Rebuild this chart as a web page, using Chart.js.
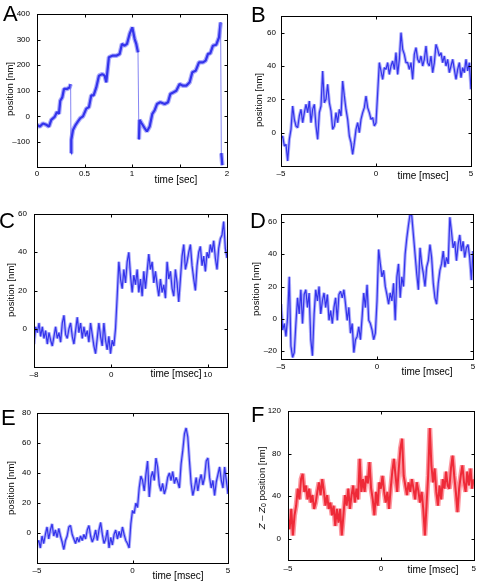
<!DOCTYPE html>
<html>
<head>
<meta charset="utf-8">
<script src="https://cdn.jsdelivr.net/npm/chart.js@4"></script>
<style>
  body { margin: 0; width: 480px; height: 582px; background: #fff; position: relative; overflow: hidden;
         font-family: 'Liberation Sans', Arial, Helvetica, sans-serif; }
  .p { position: absolute; width: 240px; height: 194px; }
  .lt { position: absolute; font-size: 22px; line-height: 22px; color: #000; }
</style>
</head>
<body>
<div class="p" style="left:0;top:0"><canvas id="cA"></canvas></div>
<div class="p" style="left:240px;top:0"><canvas id="cB"></canvas></div>
<div class="p" style="left:0;top:194px"><canvas id="cC"></canvas></div>
<div class="p" style="left:240px;top:194px"><canvas id="cD"></canvas></div>
<div class="p" style="left:0;top:388px"><canvas id="cE"></canvas></div>
<div class="p" style="left:240px;top:388px"><canvas id="cF"></canvas></div>

<div class="lt" style="left:3px;top:3px">A</div>
<div class="lt" style="left:251px;top:4px">B</div>
<div class="lt" style="left:-1px;top:210px">C</div>
<div class="lt" style="left:250px;top:210px">D</div>
<div class="lt" style="left:1px;top:407px">E</div>
<div class="lt" style="left:251px;top:404px">F</div>

<script>
// ---- data ----
// A: time [sec] / position [nm]
const tA = [0, 0.028, 0.063, 0.098, 0.126, 0.150, 0.186, 0.210, 0.231, 0.245, 0.266, 0.284, 0.315, 0.343, 0.354,
  0.358, 0.361, 0.379, 0.407, 0.431, 0.456, 0.484, 0.519, 0.547, 0.571, 0.596, 0.624, 0.652, 0.687, 0.712, 0.729,
  0.757, 0.793, 0.835, 0.870, 0.894, 0.922, 0.947, 0.975, 1.003, 1.028, 1.045, 1.063,
  1.073, 1.080, 1.101, 1.133, 1.157, 1.186, 1.214, 1.238, 1.263, 1.298, 1.344, 1.379, 1.403, 1.438, 1.466, 1.501,
  1.536, 1.572, 1.607, 1.635, 1.670, 1.705, 1.747, 1.775, 1.800, 1.824, 1.852, 1.887, 1.916, 1.933, 1.940, 1.951];
const posA = [-33, -40, -28, -33, -40, -14, -2, 17, 10, 61, 74, 107, 107, 113, 126,
  -144, -92, -53, -33, -20, -7, 0, 30, 36, 82, 82, 113, 159, 165, 159, 133,
  231, 237, 237, 244, 283, 276, 283, 322, 348, 302, 283, 250,
  -90, -14, -27, -46, -59, -40, 10, 23, 48, 55, 48, 55, 87, 94, 100, 126,
  120, 120, 133, 172, 178, 211, 211, 218, 244, 246, 276, 280, 309, 367, -144, -191];

// B: -5..5 msec
const posB = [-4, -2, -8, -7, -17, -4, 2, 16, 8, 4,
  3, 10, 14, 6, 12, 17, 12, 19, 6, 14,
  17, 4, -4, 12, 16, 37, 18, 20, 29, 18,
  13, 2, 4, 12, 6, 14, 10, 31, 22, 14,
  8, -2, -6, -13, -6, 2, 6, 0, 8, 12,
  15, 22, 15, 12, 8, 9, 4, 6, 24, 42,
  37, 32, 39, 38, 42, 35, 40, 43, 38, 48,
  35, 44, 60, 50, 47, 42, 42, 38, 42, 32,
  47, 51, 44, 42, 46, 40, 44, 52, 42, 40,
  46, 36, 42, 53, 50, 46, 48, 42, 46, 40,
  44, 36, 40, 44, 38, 32, 38, 42, 33, 39,
  36, 44, 37, 42, 26];

// C: -8..12 msec
const posC = [-8, 1, -2, 3, -4, 1, -5, -1, -8, -2,
  -6, -9, -4, 1, -5, -2, -7, 3, 7, -3,
  -5, 0, 3, -4, -8, -1, 6, -2, 3, -5,
  1, -4, -1, -7, 3, -3, -9, -13, -5, 3,
  -4, -9, 3, -6, -11, -4, -13, -6, -9, 0,
  17, 35, 26, 21, 31, 24, 35, 40, 28, 19,
  28, 23, 31, 19, 26, 17, 30, 21, 30, 39,
  31, 35, 24, 30, 23, 17, 26, 19, 23, 16,
  35, 26, 30, 21, 17, 31, 24, 14, 26, 38,
  44, 31, 35, 40, 44, 33, 26, 20, 33, 40,
  43, 33, 38, 30, 40, 37, 44, 40, 46, 37,
  31, 42, 47, 49, 56, 42, 37];

// D: -5..5 msec
const posD = [9, -7, -3, -11, 1, 26, -17, -24, -21, -3,
  13, 3, 18, -3, 15, 18, 7, 16, -13, -23,
  3, 18, 11, 20, 3, 11, 16, 7, 15, -1,
  5, -3, 7, 13, -1, 15, 17, 13, 18, 9,
  -1, 7, -9, -3, -21, -13, -11, -5, -13, 1,
  16, 7, 21, -1, -3, -7, -13, -9, 11, 43,
  34, 26, 30, 20, 15, 9, 16, 11, 22, -1,
  26, 34, 13, 26, 20, 40, 50, 58, 65, 64,
  52, 40, 28, 18, 44, 34, 28, 20, 32, 36,
  46, 38, 22, 13, 9, 22, 30, 34, 42, 32,
  38, 34, 63, 54, 44, 48, 36, 46, 52, 42,
  48, 38, 44, 46, 38, 24, 42];

// E: -5..5 msec
const posE = [-7, -5, -10, -2, -7, -1, 4, -4, 2, 6,
  -2, 2, -3, 3, -2, -6, -11, -5, -2, 4,
  5, -1, -4, -7, -3, -6, -2, -5, -1, -4,
  2, 5, -2, -6, -3, 2, -5, 2, 7, -1,
  -7, -4, 2, -10, -3, -8, -1, 2, -4, 1,
  -3, 4, -1, -5, -7, -10, 6, 15, 13, 20,
  17, 30, 38, 35, 28, 39, 48, 24, 37, 41,
  35, 50, 44, 32, 28, 33, 26, 30, 37, 40,
  35, 41, 33, 37, 34, 30, 46, 55, 66, 70,
  64, 48, 33, 25, 30, 37, 28, 35, 39, 32,
  37, 48, 50, 37, 30, 35, 25, 34, 39, 44,
  35, 30, 44, 35, 26];

// F: -5..5 msec, Z - Z0
const posF = [19, 9, 28, 3, 22, 31, 47, 37, 56, 61,
  44, 50, 37, 47, 34, 41, 28, 34, 44, 53,
  41, 56, 45, 31, 41, 28, 34, 22, 31, 12,
  28, 15, 28, 3, 22, 41, 31, 47, 28, 41,
  50, 34, 47, 37, 75, 44, 56, 44, 59, 52,
  72, 47, 37, 22, 44, 31, 53, 47, 59, 44,
  34, 44, 28, 47, 63, 75, 59, 44, 66, 85,
  94, 59, 50, 41, 53, 44, 56, 47, 37, 53,
  45, 34, 44, 28, 3, 31, 59, 104, 69, 53,
  66, 44, 31, 50, 37, 56, 47, 63, 50, 47,
  66, 78, 59, 44, 25, 47, 59, 69, 53, 44,
  63, 50, 66, 47, 56];

// tick values
const xTicksA = [0, 0.5, 1, 1.5, 2], yTicksA = [-100, 0, 100, 200, 300, 400];
const xTicks5 = [-5, 0, 5];
const xTicksC = [-8, 0, 10];
const yTicksB = [0, 20, 40, 60], yTicksC = [0, 20, 40, 60], yTicksD = [-20, 0, 20, 40, 60];
const yTicksE = [0, 20, 40, 60, 80], yTicksF = [0, 40, 80, 120];

// evenly sampled time base
function span(a, b, n) { const out = []; for (let i = 0; i < n; i++) out.push(a + (b - a) * i / (n - 1)); return out; }

const FONT = "'Liberation Sans', Arial, Helvetica, sans-serif";
const dash = v => v < 0 ? '\u2013' + (-v) : String(v);

// box, inward ticks on all four sides, axis titles
const framePlugin = {
  id: 'frame',
  afterDraw(chart, args, o) {
    const { ctx, chartArea: a } = chart;
    const x = chart.scales.x, y = chart.scales.y;
    const L = Math.round(a.left) + 0.5, R = Math.round(a.right) + 0.5;
    const T = Math.round(a.top) + 0.5, B = Math.round(a.bottom) + 0.5;
    ctx.save();
    ctx.strokeStyle = '#000';
    ctx.lineWidth = 1;
    ctx.strokeRect(L, T, R - L, B - T);
    ctx.beginPath();
    x.ticks.forEach(t => {
      const px = Math.round(x.getPixelForValue(t.value)) + 0.5;
      ctx.moveTo(px, B); ctx.lineTo(px, B - 3);
      ctx.moveTo(px, T); ctx.lineTo(px, T + 3);
    });
    y.ticks.forEach(t => {
      const py = Math.round(y.getPixelForValue(t.value)) + 0.5;
      ctx.moveTo(L, py); ctx.lineTo(L + 3, py);
      ctx.moveTo(R, py); ctx.lineTo(R - 3, py);
    });
    ctx.stroke();

    ctx.fillStyle = '#000';
    ctx.textBaseline = 'middle';
    ctx.textAlign = 'center';
    ctx.font = '10px ' + FONT;
    ctx.fillText(o.xTitle, o.xX, o.xY);

    ctx.translate(o.yX, o.yY);
    ctx.rotate(-Math.PI / 2);
    const parts = o.yParts || [{ t: o.yTitle }];
    const fontOf = p => (p.italic ? 'italic ' : '') + (p.size || 9.5) + 'px ' + FONT;
    let w = 0;
    parts.forEach(p => { ctx.font = fontOf(p); w += ctx.measureText(p.t).width; });
    let cx = -w / 2;
    ctx.textAlign = 'left';
    parts.forEach(p => {
      ctx.font = fontOf(p);
      ctx.fillText(p.t, cx, p.dy || 0);
      cx += ctx.measureText(p.t).width;
    });
    ctx.restore();
  }
};

// pad: [top, right, y-axis width, x-axis height]
function panel(id, p) {
  const pts = p.t.map((t, i) => ({ x: t, y: p.v[i] }));
  // big jumps (bead released / snapped back) are drawn as thin pale lines
  const jump = c => p.jump && Math.abs(c.p1.parsed.y - c.p0.parsed.y) > p.jump;
  new Chart(document.getElementById(id), {
    type: 'line',
    data: {
      datasets: [
        { data: pts, borderColor: p.halo, borderWidth: p.hw || 3.2, pointRadius: 0, borderJoinStyle: 'bevel',
          segment: { borderColor: c => jump(c) ? 'rgba(0,0,0,0)' : undefined } },
        { data: pts, borderColor: p.color, borderWidth: p.cw || 1.2, pointRadius: 0, borderJoinStyle: 'bevel',
          segment: { borderWidth: c => jump(c) ? 0.9 : undefined,
                     borderColor: c => jump(c) ? 'rgb(120,120,240)' : undefined } }
      ]
    },
    options: {
      responsive: true,
      maintainAspectRatio: false,
      animation: false,
      events: [],
      layout: { padding: { left: 0, top: p.pad[0], right: p.pad[1], bottom: 0 } },
      plugins: { legend: { display: false }, tooltip: { enabled: false }, frame: p.frame },
      scales: {
        x: {
          type: 'linear', min: p.xr[0], max: p.xr[1],
          grid: { display: false, drawTicks: false, tickLength: 0 }, border: { display: false },
          afterBuildTicks: s => { s.ticks = p.xt.map(v => ({ value: v })); },
          afterFit: s => { s.height = p.pad[3]; },
          ticks: {
            autoSkip: false, maxRotation: 0, padding: p.xpad, color: '#000',
            font: { family: FONT, size: 8 },
            callback: v => (p.xHide || []).includes(v) ? '' : dash(v)
          }
        },
        y: {
          type: 'linear', min: p.yr[0], max: p.yr[1],
          grid: { display: false, drawTicks: false, tickLength: 0 }, border: { display: false },
          afterBuildTicks: s => { s.ticks = p.yt.map(v => ({ value: v })); },
          afterFit: s => { s.width = p.pad[2]; },
          ticks: {
            autoSkip: false, padding: p.ypad, color: '#000',
            font: { family: FONT, size: 8 },
            callback: v => dash(v)
          }
        }
      }
    },
    plugins: [framePlugin]
  });
}

const BLUE = 'rgb(15,15,220)', BLUE_HALO = 'rgba(90,90,250,0.5)';
const RED = 'rgb(225,10,20)', RED_HALO = 'rgba(250,70,85,0.55)';

panel('cA', {
  t: tA, v: posA, color: BLUE, halo: BLUE_HALO, hw: 4.5, cw: 2.2, jump: 150,
  xr: [0, 2], yr: [-198, 400], xt: xTicksA, yt: yTicksA, xHide: [1.5],
  pad: [14, 13, 37, 27], xpad: 2, ypad: 7,
  frame: { xTitle: 'time [sec]', xX: 176, xY: 180, yTitle: 'position [nm]', yX: 10, yY: 89 }
});
panel('cB', {
  t: span(-5, 5, posB.length), v: posB, color: BLUE, halo: BLUE_HALO,
  xr: [-5, 5], yr: [-20, 70], xt: xTicks5, yt: yTicksB,
  pad: [16, 9, 41, 28], xpad: 3, ypad: 5,
  frame: { xTitle: 'time [msec]', xX: 183, xY: 176, yTitle: 'position [nm]', yX: 19.5, yY: 100 }
});
panel('cC', {
  t: span(-8, 12, posC.length), v: posC, color: BLUE, halo: BLUE_HALO,
  xr: [-8, 12], yr: [-20, 60], xt: xTicksC, yt: yTicksC,
  pad: [20, 13, 34, 21], xpad: 3, ypad: 7,
  frame: { xTitle: 'time [msec]', xX: 176, xY: 180.5, yTitle: 'position [nm]', yX: 11, yY: 96 }
});
panel('cD', {
  t: span(-5, 5, posD.length), v: posD, color: BLUE, halo: BLUE_HALO,
  xr: [-5, 5], yr: [-25, 65], xt: xTicks5, yt: yTicksD,
  pad: [20, 7, 41, 29], xpad: 3, ypad: 4,
  frame: { xTitle: 'time [msec]', xX: 187, xY: 178, yTitle: 'position [nm]', yX: 16.5, yY: 95 }
});
panel('cE', {
  t: span(-5, 5, posE.length), v: posE, color: BLUE, halo: BLUE_HALO,
  xr: [-5, 5], yr: [-20, 80], xt: xTicks5, yt: yTicksE,
  pad: [25, 12, 37, 19], xpad: 3, ypad: 6,
  frame: { xTitle: 'time [msec]', xX: 178, xY: 188, yTitle: 'position [nm]', yX: 11, yY: 100 }
});
panel('cF', {
  t: span(-5, 5, posF.length), v: posF, color: RED, halo: RED_HALO, hw: 5, cw: 2,
  xr: [-5, 5], yr: [-20, 120], xt: xTicks5, yt: yTicksF,
  pad: [23, 3, 48, 22], xpad: 4, ypad: 7,
  frame: { xTitle: 'time [msec]', xX: 193, xY: 182, yX: 22, yY: 100,
    yParts: [{ t: 'Z \u2013 Z', italic: true }, { t: '0', size: 7, dy: 2.5 }, { t: ' position [nm]' }] }
});
</script>
</body>
</html>
